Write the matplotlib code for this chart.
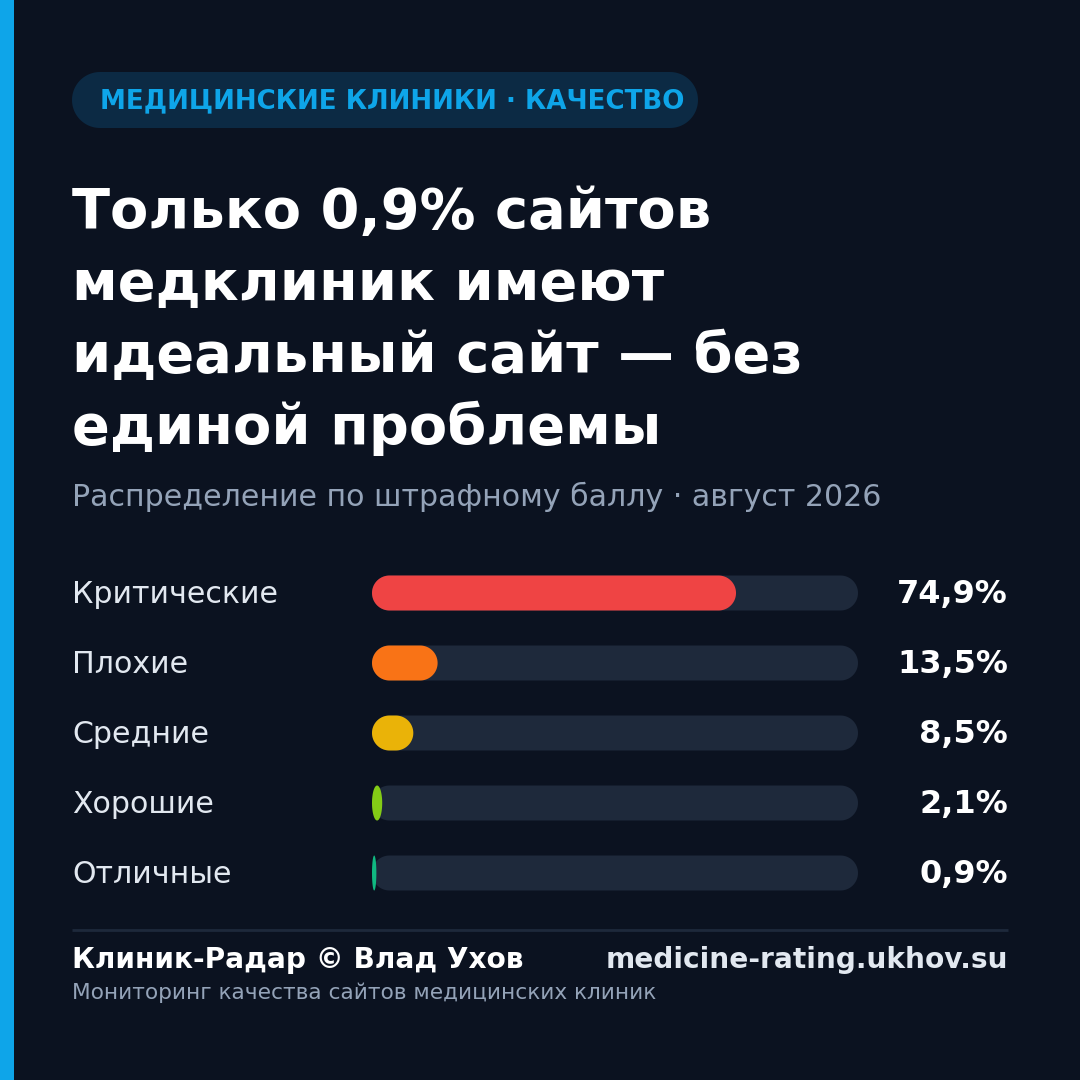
import matplotlib
matplotlib.use("Agg")
import matplotlib.pyplot as plt
from matplotlib.patches import Polygon, Rectangle
from matplotlib.transforms import blended_transform_factory
import numpy as np

# data
categories = ["Критические", "Плохие", "Средние", "Хорошие", "Отличные"]
shares = [74.9, 13.5, 8.5, 2.1, 0.9]
value_labels = ["74,9%", "13,5%", "8,5%", "2,1%", "0,9%"]
bar_colors = ["#ef4444", "#f97316", "#eab308", "#84cc16", "#10b981"]

tag_text = "МЕДИЦИНСКИЕ КЛИНИКИ · КАЧЕСТВО"
title_lines = ["Только 0,9% сайтов", "медклиник имеют",
               "идеальный сайт — без", "единой проблемы"]
subtitle = "Распределение по штрафному баллу · август 2026"
footer_left = "Клиник-Радар © Влад Ухов"
footer_right = "medicine-rating.ukhov.su"
footer_sub = "Мониторинг качества сайтов медицинских клиник"

BG = "#0b1220"
ACCENT = "#0ea5e9"
TRACK = "#1e293b"
MUTED = "#94a3b8"
LIGHT = "#e2e8f0"

plt.rcParams['font.family'] = ['DejaVu Sans']


def pill(x0, y0, w, h, rx, ry, n=24):
  # rounded rect with elliptical corners, radius clamped like svg rx/ry
  rx = min(rx, w / 2)
  ry = min(ry, abs(h) / 2)
  x1, y1 = x0 + w, y0 + h
  pts = []
  corners = [(x1 - rx, y1 - ry, 0), (x0 + rx, y1 - ry, 90),
             (x0 + rx, y0 + ry, 180), (x1 - rx, y0 + ry, 270)]
  for cx, cy, a0 in corners:
    t = np.radians(np.linspace(a0, a0 + 90, n))
    pts += list(zip(cx + rx * np.cos(t), cy + ry * np.sin(t)))
  return np.array(pts)


fig = plt.figure(figsize=(10.8, 10.8), dpi=100)
fig.patch.set_facecolor(BG)

main = fig.add_axes([0, 0, 1, 1])
main.set_xlim(0, 1080)
main.set_ylim(1080, 0)
main.axis('off')

# left accent stripe
main.add_patch(Rectangle((0, 0), 14, 1080, color=ACCENT, lw=0))

# tag pill
main.add_patch(Polygon(pill(72, 72, 626, 56, 28, 28), closed=True,
                       color="#0c2a44", lw=0))
main.text(100, 101, tag_text, color=ACCENT, fontsize=18.8, fontweight='bold',
          va='center', ha='left')

# title
for i, line in enumerate(title_lines):
  main.text(72, 228 + i * 72, line, color="white", fontsize=40.2,
            fontweight='bold', va='baseline', ha='left')

main.text(72, 497, subtitle, color=MUTED, fontsize=21.6, va='center', ha='left')

# bars
bars = fig.add_axes([372 / 1080, 1 - 908 / 1080, 486 / 1080, 350 / 1080])
bars.set_xlim(0, 100)
bars.set_ylim(len(categories) - 0.5, -0.5)
bars.axis('off')
bars.patch.set_alpha(0)

px_x = 486 / 100.0   # px per percent
px_y = 70.0          # px per row
h = 35 / px_y
rx = 17.5 / px_x
ry = h / 2

for i, (v, c) in enumerate(zip(shares, bar_colors)):
  bars.add_patch(Polygon(pill(0, i - h / 2, 100, h, rx, ry), closed=True,
                         color=TRACK, lw=0))
  bars.add_patch(Polygon(pill(0, i - h / 2, v, h, rx, ry), closed=True,
                         color=c, lw=0))

tr = blended_transform_factory(main.transData, bars.transData)
for i, (cat, lab) in enumerate(zip(categories, value_labels)):
  main.text(72, i + 0.015, cat, transform=tr, color=LIGHT, fontsize=21.6,
            va='center', ha='left')
  main.text(1008, i + 0.015, lab, transform=tr, color="white", fontsize=23,
            fontweight='bold', va='center', ha='right')

# footer
main.plot([72, 1008], [930, 930], color=TRACK, lw=2, solid_capstyle='butt')
main.text(72, 968, footer_left, color="white", fontsize=20.2, fontweight='bold',
          va='baseline', ha='left')
main.text(1008, 968, footer_right, color=LIGHT, fontsize=20.2, fontweight='bold',
          va='baseline', ha='right')
main.text(72, 993, footer_sub, color=MUTED, fontsize=15.6, va='center', ha='left')

fig.savefig("out.png", dpi=100, facecolor=BG)
